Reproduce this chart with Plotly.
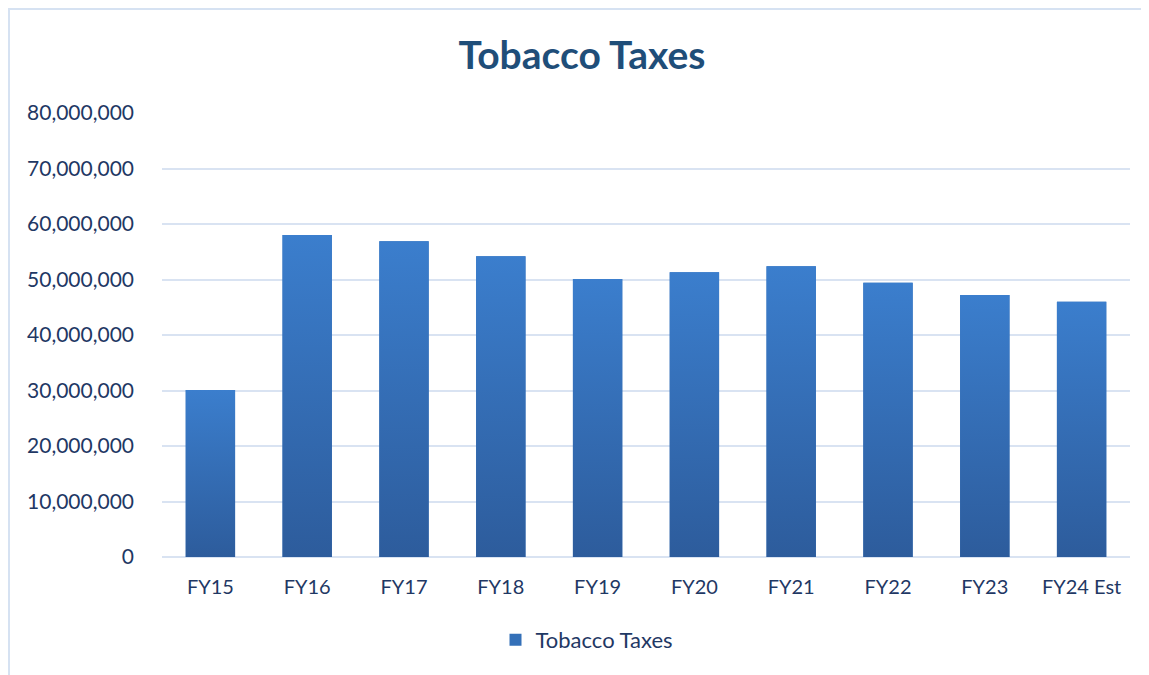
import plotly.graph_objects as go

categories = ["FY15", "FY16", "FY17", "FY18", "FY19", "FY20", "FY21", "FY22", "FY23", "FY24 Est"]
values = [30100000, 58000000, 56900000, 54200000, 50100000, 51300000, 52400000, 49400000, 47200000, 46000000]
tick_vals = [0, 10000000, 20000000, 30000000, 40000000, 50000000, 60000000, 70000000, 80000000]
series_name = "Tobacco Taxes"
title_text = "Tobacco Taxes"

FONT = "Lato, Calibri, sans-serif"
TXT = "#1F3864"
TOP_C = "#3B7ECD"
BOT_C = "#2D5C9C"
half = 0.255

W, H = 1141, 667
L, R, T, B = 154, 19, 105, 118
PW, PH = W - L - R, H - T - B

idx = list(range(len(categories)))
fig = go.Figure()

fig.add_trace(go.Bar(
    x=idx, y=values, width=2 * half, name=series_name,
    marker=dict(color="#3470B8", line=dict(width=0)),
    showlegend=True, hoverinfo="skip",
))

for i, v in zip(idx, values):
    fig.add_trace(go.Scatter(
        x=[i - half, i + half, i + half, i - half, i - half],
        y=[0, 0, v, v, 0],
        mode="lines", line=dict(width=0), fill="toself",
        fillgradient=dict(type="vertical", colorscale=[[0, BOT_C], [1, TOP_C]]),
        showlegend=False, hoverinfo="skip",
    ))

fig.update_layout(
    width=W, height=H,
    margin=dict(l=L, r=R, t=T, b=B),
    paper_bgcolor="white", plot_bgcolor="white",
    font=dict(family=FONT, color=TXT, size=20),
    title=dict(text="<b>" + title_text + "</b>", x=0.503, xanchor="center",
               y=1 - 47 / H, yanchor="middle",
               font=dict(family=FONT, size=39, color="#1F4E79")),
    xaxis=dict(
        range=[-0.5, len(categories) - 0.5],
        tickmode="array", tickvals=idx, ticktext=categories,
        showgrid=False, zeroline=False, showline=False,
        ticks="", ticklen=0, tickfont=dict(size=20, color=TXT),
        ticklabelstandoff=16,
    ),
    yaxis=dict(
        range=[0, 80000000], tickmode="array", tickvals=tick_vals,
        tickformat=",d", showgrid=True, gridcolor="#D9E3F2", gridwidth=2,
        zeroline=True, zerolinecolor="#D9E3F2", zerolinewidth=2,
        showline=False, ticks="", tickfont=dict(size=21, color=TXT),
        ticklabelstandoff=27,
    ),
    legend=dict(orientation="h", x=(579 - L) / PW, xanchor="center",
                y=-83 / PH, yanchor="middle",
                font=dict(size=22, color=TXT), itemwidth=30),
    shapes=[dict(type="rect", xref="paper", yref="paper",
                 x0=(1 - L) / PW, x1=(W + 20 - L) / PW,
                 y0=-(B + 20) / PH, y1=(PH + T - 1) / PH,
                 line=dict(color="#D6E2F2", width=2), fillcolor="rgba(0,0,0,0)",
                 layer="below")],
)

fig.write_html("out.html")
